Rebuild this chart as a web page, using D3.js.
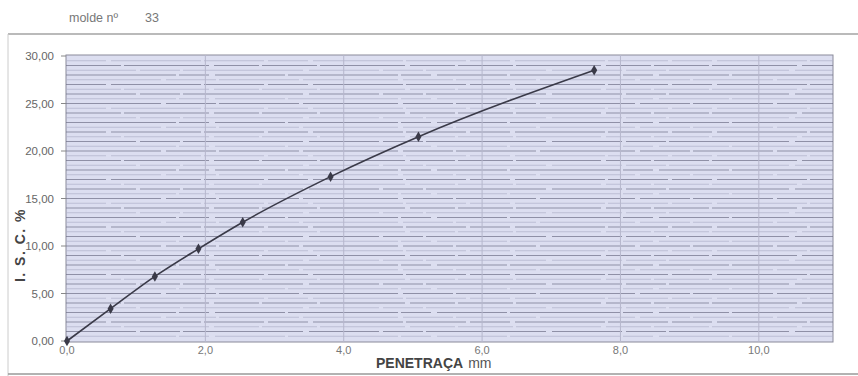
<!DOCTYPE html>
<html><head><meta charset="utf-8">
<script src="https://cdn.jsdelivr.net/npm/d3@7"></script>
<style>body{margin:0;background:#fff;}svg{display:block;font-family:"Liberation Sans",Arial,sans-serif;}</style>
</head><body>
<script>
const penetration = [0, 0.63, 1.27, 1.90, 2.54, 3.81, 5.08, 7.62];
const isc = [0, 3.4, 6.8, 9.7, 12.5, 17.3, 21.5, 28.5];
const xTicks = [0, 2, 4, 6, 8, 10];
const yTicks = [0, 5, 10, 15, 20, 25, 30];
const titleLabel = "molde nº";
const titleValue = "33";
const xTitle = "PENETRAÇA";
const xUnit = "mm";
const yTitle = "I. S. C. %";

const W = 858, H = 376;
const svg = d3.select("body").append("svg").attr("width", W).attr("height", H);
const m = {l: 66, t: 55, r: 833, b: 342};
const x = d3.scaleLinear().domain([0, 11]).range([67, 828]);
const y = d3.scaleLinear().domain([0, 30]).range([341, 56]);

svg.append("line").attr("x1", 8).attr("x2", W).attr("y1", 34).attr("y2", 34).attr("stroke", "#777").attr("stroke-width", 1.2);
svg.append("line").attr("x1", 8).attr("x2", 8).attr("y1", 34).attr("y2", H).attr("stroke", "#ccc").attr("stroke-width", 1);
svg.append("line").attr("x1", 8).attr("x2", W).attr("y1", 374).attr("y2", 374).attr("stroke", "#999").attr("stroke-width", 1.5);

svg.append("text").attr("x", 69).attr("y", 22).attr("fill", "#777").attr("font-size", 12.5).text(titleLabel);
svg.append("text").attr("x", 145).attr("y", 22).attr("fill", "#777").attr("font-size", 12.5).text(titleValue);

svg.append("rect").attr("x", m.l).attr("y", m.t).attr("width", m.r - m.l).attr("height", m.b - m.t)
  .attr("fill", "#dcdef0").attr("stroke", "#8a8a9a").attr("stroke-width", 1);

const dashSets = ["70,4,40,3,120,6", "40,5,90,3,60,4", "110,3,30,6,70,3", "55,3,85,5,45,3", "95,5,50,3,80,4"];
svg.append("g").selectAll("line").data(d3.range(0.5, 30, 1)).join("line")
  .attr("x1", m.l).attr("x2", m.r).attr("y1", d => y(d)).attr("y2", d => y(d))
  .attr("stroke", "#b0b2ca").attr("stroke-width", 1).attr("stroke-dasharray", (d, i) => dashSets[(i + 2) % 5]).attr("opacity", 0.7);
svg.append("g").selectAll("line").data(d3.range(1, 30)).join("line")
  .attr("x1", m.l).attr("x2", m.r).attr("y1", d => y(d)).attr("y2", d => y(d))
  .attr("stroke", "#6f7088").attr("stroke-width", 1.1).attr("stroke-dasharray", (d, i) => dashSets[i % 5]).attr("opacity", 0.7);
svg.append("g").selectAll("line").data(xTicks.slice(1)).join("line")
  .attr("x1", d => x(d)).attr("x2", d => x(d)).attr("y1", m.t).attr("y2", m.b)
  .attr("stroke", "#b6b7cc").attr("stroke-width", 1);

const gy = svg.append("g");
gy.selectAll("line").data(yTicks).join("line")
  .attr("x1", m.l - 5).attr("x2", m.l).attr("y1", d => y(d)).attr("y2", d => y(d)).attr("stroke", "#888");
gy.selectAll("text").data(yTicks).join("text")
  .attr("x", 54).attr("y", d => y(d) + 4).attr("text-anchor", "end").attr("font-size", 11.5).attr("fill", "#666")
  .text(d => d3.format(".2f")(d).replace(".", ","));

svg.append("g").selectAll("text").data(xTicks).join("text")
  .attr("x", d => x(d)).attr("y", 354).attr("text-anchor", "middle").attr("font-size", 11).attr("fill", "#777")
  .text(d => d3.format(".1f")(d).replace(".", ","));

const xt = svg.append("text").attr("x", 376).attr("y", 368).attr("font-size", 14).attr("fill", "#444");
xt.append("tspan").attr("font-weight", "bold").text(xTitle);
xt.append("tspan").attr("dx", 5).attr("fill", "#555").text(xUnit);
svg.append("text").attr("transform", "translate(25,245) rotate(-90)").attr("text-anchor", "middle")
  .attr("font-size", 14).attr("font-weight", "bold").attr("letter-spacing", 1.5).attr("fill", "#444").text(yTitle);

const pts = penetration.map((p, i) => [p, isc[i]]);
svg.append("path").datum(pts)
  .attr("d", d3.line().x(d => x(d[0])).y(d => y(d[1])).curve(d3.curveMonotoneX))
  .attr("fill", "none").attr("stroke", "#3a3a48").attr("stroke-width", 1.6);
svg.append("g").selectAll("path").data(pts).join("path")
  .attr("transform", d => `translate(${x(d[0])},${y(d[1])})`)
  .attr("d", d3.symbol(d3.symbolDiamond, 32))
  .attr("fill", "#3a3a48");
</script>
</body></html>
